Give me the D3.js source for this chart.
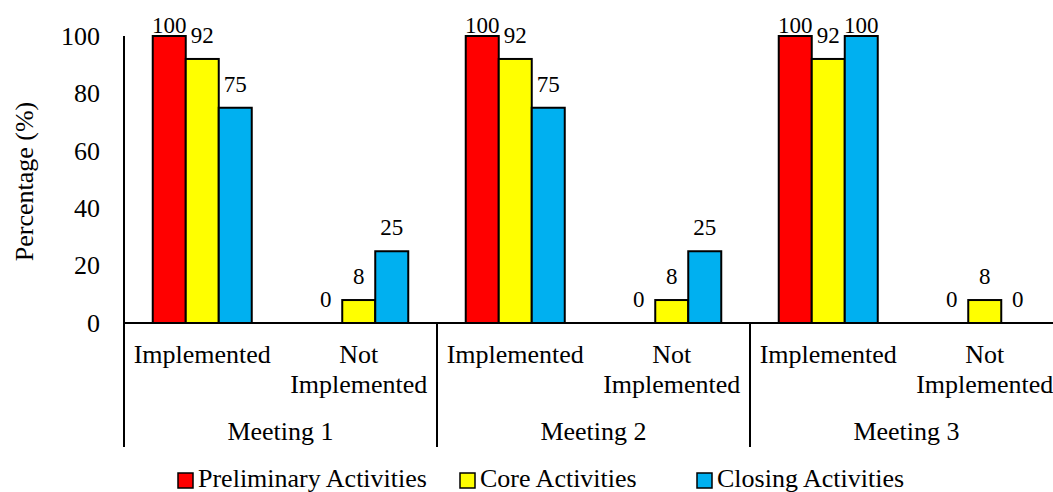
<!DOCTYPE html>
<html>
<head>
<meta charset="utf-8">
<script src="https://cdn.jsdelivr.net/npm/d3@7/dist/d3.min.js"></script>
</head>
<body style="margin:0">
<svg id="chart" width="1053" height="492"></svg>
<script>
// Share of lesson activities carried out, per meeting
const meetings = ["Meeting 1", "Meeting 2", "Meeting 3"];
const statuses = ["Implemented", "Not Implemented"];
const seriesNames = ["Preliminary Activities", "Core Activities", "Closing Activities"];
const seriesColors = ["#FF0000", "#FFFF00", "#00B0F0"];

// one value per (meeting, status) pair, in meeting order
const preliminary = [100, 0, 100, 0, 100, 0];
const core        = [92, 8, 92, 8, 92, 8];
const closing     = [75, 25, 75, 25, 100, 0];
const yTicks = [0, 20, 40, 60, 80, 100];

const seriesValues = [preliminary, core, closing];
const FONT = "Liberation Serif";

const svg = d3.select("#chart");
const plot = { left: 124, right: 1063, top: 36, bottom: 323 };

// every label goes through here so they share one face
function label(sel, size) {
  return sel.attr("font-family", FONT).attr("font-size", size)
    .style("font-family", FONT).style("font-size", size + "px").attr("fill", "#000");
}

// flat list of categories: one per meeting/status pair
const cats = [];
meetings.forEach(m => statuses.forEach(s => cats.push({ meeting: m, status: s, key: m + "|" + s })));

const x0 = d3.scaleBand().domain(cats.map(c => c.key)).range([plot.left, plot.right]).paddingInner(0).paddingOuter(0);
const x1 = d3.scaleBand().domain(seriesNames).range([0, x0.bandwidth()]).paddingInner(0).paddingOuter(0.871);
const xm = d3.scaleBand().domain(meetings).range([plot.left, plot.right]).padding(0);
const y = d3.scaleLinear().domain([0, 100]).range([plot.bottom, plot.top]);

// y tick labels and vertical axis line
label(svg.append("g").selectAll("text").data(yTicks).join("text")
  .attr("x", plot.left - 24)
  .attr("y", d => y(d))
  .attr("dy", "0.34em")
  .attr("text-anchor", "end")
  .text(d => d), 26);
svg.append("line").attr("x1", plot.left).attr("x2", plot.left).attr("y1", plot.top).attr("y2", plot.bottom)
  .attr("stroke", "#000").attr("stroke-width", 2);

label(svg.append("text")
  .attr("transform", `translate(33,${(plot.top + plot.bottom) / 2 + 2}) rotate(-90)`)
  .attr("text-anchor", "middle")
  .text("Percentage (%)"), 26);

// bars
const barData = [];
cats.forEach((c, i) => seriesNames.forEach((s, j) => barData.push({ cat: c, series: s, j, value: seriesValues[j][i] })));

svg.append("g").selectAll("rect").data(barData.filter(d => d.value > 0)).join("rect")
  .attr("x", d => x0(d.cat.key) + x1(d.series))
  .attr("y", d => y(d.value))
  .attr("width", x1.bandwidth())
  .attr("height", d => y(0) - y(d.value))
  .attr("fill", d => seriesColors[d.j])
  .attr("stroke", "#000")
  .attr("stroke-width", 2);

// value labels
label(svg.append("g").selectAll("text").data(barData).join("text")
  .attr("x", d => x0(d.cat.key) + x1(d.series) + x1.bandwidth() / 2)
  .attr("y", d => Math.max(y(d.value) - 16, 33))
  .attr("text-anchor", "middle")
  .text(d => d.value), 23);

// baseline
svg.append("line").attr("x1", plot.left).attr("x2", plot.right).attr("y1", plot.bottom).attr("y2", plot.bottom)
  .attr("stroke", "#000").attr("stroke-width", 2);

// group separators below the baseline
const seps = meetings.map(m => xm(m)).concat([plot.right]);
svg.append("g").selectAll("line").data(seps).join("line")
  .attr("x1", d => d).attr("x2", d => d)
  .attr("y1", plot.bottom).attr("y2", 447)
  .attr("stroke", "#000").attr("stroke-width", 2);

// status labels (wrapped on spaces)
const catLabels = label(svg.append("g").selectAll("text").data(cats).join("text")
  .attr("text-anchor", "middle"), 26);
catLabels.each(function (d) {
  const words = d.status.split(" ");
  const t = d3.select(this);
  words.forEach((w, k) => {
    t.append("tspan")
      .attr("x", x0(d.key) + x0.bandwidth() / 2)
      .attr("y", 363 + k * 30)
      .text(w);
  });
});

// meeting labels
label(svg.append("g").selectAll("text").data(meetings).join("text")
  .attr("x", d => xm(d) + xm.bandwidth() / 2)
  .attr("y", 440)
  .attr("text-anchor", "middle")
  .text(d => d), 26);

// legend
const legendX = [178, 460, 697];
const lg = svg.append("g").selectAll("g").data(seriesNames).join("g")
  .attr("transform", (d, i) => `translate(${legendX[i]},473)`);
lg.append("rect").attr("width", 15).attr("height", 15)
  .attr("fill", (d, i) => seriesColors[i]).attr("stroke", "#000").attr("stroke-width", 1.5);
label(lg.append("text").attr("x", 20).attr("y", 14).text(d => d), 26);
</script>
</body>
</html>
